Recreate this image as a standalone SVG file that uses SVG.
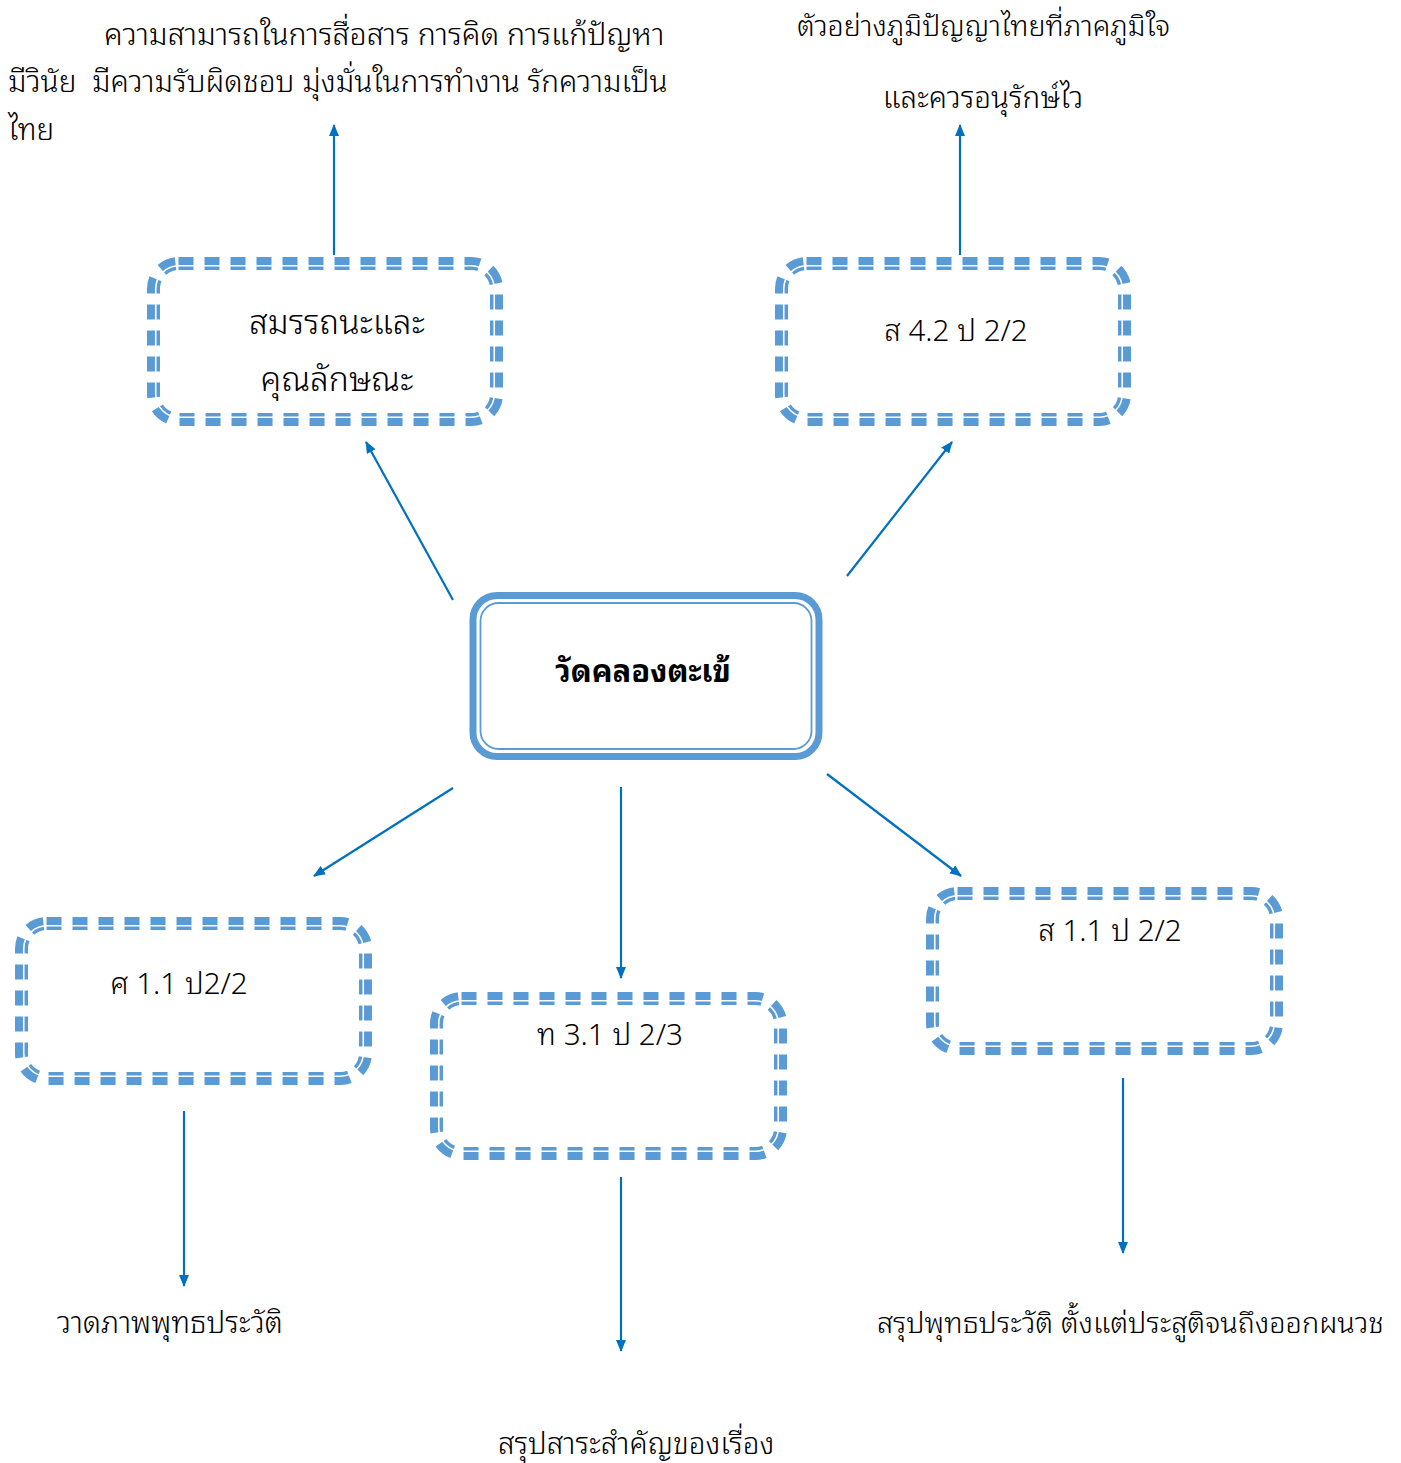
<svg xmlns="http://www.w3.org/2000/svg" width="1401" height="1463" viewBox="0 0 1401 1463">
<defs>
<style>
text{font-family:"Noto Sans Thai Looped","Noto Serif Thai","Noto Sans Thai","Noto Sans",sans-serif;font-size:29.6px;font-weight:300;fill:#000}
.c{text-anchor:middle}
.b{font-weight:bold;font-size:31px}
.big{font-size:33.6px}
.dash{fill:none;stroke:#5b9bd5;stroke-width:13;stroke-dasharray:15 11}
.split{fill:none;stroke:#fff;stroke-width:1.6}
.edge{stroke:#0070c0;stroke-width:2.2;fill:none;marker-end:url(#ah)}
</style>
<marker id="ah" viewBox="0 0 12 10" refX="11" refY="5" markerWidth="12" markerHeight="10" markerUnits="userSpaceOnUse" orient="auto"><path d="M0,0L12,5L0,10z" fill="#0070c0"/></marker>
</defs>
<rect width="1401" height="1463" fill="#fff"/>
<g id="connectors">
<line class="edge" x1="334" y1="255" x2="334" y2="125"/>
<line class="edge" x1="960" y1="255" x2="960" y2="125"/>
<line class="edge" x1="453" y1="600" x2="366" y2="442"/>
<line class="edge" x1="847" y1="576" x2="952" y2="442"/>
<line class="edge" x1="453" y1="788" x2="314" y2="876"/>
<line class="edge" x1="621" y1="787" x2="621" y2="978"/>
<line class="edge" x1="827" y1="774" x2="961" y2="876"/>
<line class="edge" x1="184" y1="1111" x2="184" y2="1286"/>
<line class="edge" x1="621" y1="1177" x2="621" y2="1351"/>
<line class="edge" x1="1123" y1="1078" x2="1123" y2="1253"/>
</g>
<g id="center">
<rect x="473" y="595.5" width="346" height="161" rx="24" fill="#fff" stroke="#5b9bd5" stroke-width="7"/>
<rect x="480.5" y="603" width="331" height="146" rx="18" fill="none" stroke="#5b9bd5" stroke-width="1.8"/>
<text class="c b" x="643" y="682">วัดคลองตะเข้</text>
</g>
<g id="box1">
<rect class="dash" x="153.5" y="263.5" width="343" height="156" rx="25"/>
<rect class="split" x="155.75" y="265.75" width="338.5" height="151.5" rx="23"/>
<text class="c big" x="337" y="334">สมรรถนะและ</text>
<text class="c big" x="337" y="391">คุณลักษณะ</text>
</g>
<g id="box2">
<rect class="dash" x="781.5" y="263.5" width="343" height="156" rx="25"/>
<rect class="split" x="783.75" y="265.75" width="338.5" height="151.5" rx="23"/>
<text class="c" x="956" y="341">ส 4.2 ป 2/2</text>
</g>
<g id="box3">
<rect class="dash" x="21.5" y="923.5" width="344" height="155" rx="25"/>
<rect class="split" x="23.75" y="925.75" width="339.5" height="150.5" rx="23"/>
<text class="c" x="179" y="994">ศ 1.1 ป2/2</text>
</g>
<g id="box4">
<rect class="dash" x="436.5" y="998.5" width="344" height="155" rx="25"/>
<rect class="split" x="438.75" y="1000.75" width="339.5" height="150.5" rx="23"/>
<text class="c" x="610" y="1045">ท 3.1 ป 2/3</text>
</g>
<g id="box5">
<rect class="dash" x="932.5" y="893.5" width="344" height="155" rx="25"/>
<rect class="split" x="934.75" y="895.75" width="339.5" height="150.5" rx="23"/>
<text class="c" x="1110" y="941">ส 1.1 ป 2/2</text>
</g>
<g id="labels">
<text x="104" y="45" style="font-size:30.3px">ความสามารถในการสื่อสาร การคิด การแก้ปัญหา</text>
<text x="8" y="92" style="font-size:29.8px" xml:space="preserve">มีวินัย  มีความรับผิดชอบ มุ่งมั่นในการทำงาน รักความเป็น</text>
<text x="8" y="140">ไทย</text>
<text x="797" y="36" style="font-size:28.6px">ตัวอย่างภูมิปัญญาไทยที่ภาคภูมิใจ</text>
<text class="c" x="983" y="108">และควรอนุรักษ์ไว</text>
<text x="57" y="1333">วาดภาพพุทธประวัติ</text>
<text x="498" y="1454">สรุปสาระสำคัญของเรื่อง</text>
<text x="877" y="1333" style="font-size:28.9px">สรุปพุทธประวัติ ตั้งแต่ประสูติจนถึงออกผนวช</text>
</g>
</svg>
